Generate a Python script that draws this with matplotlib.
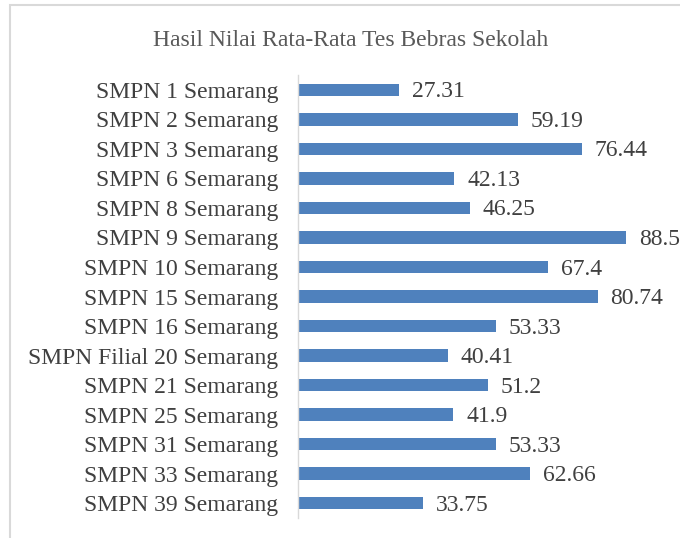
import matplotlib
matplotlib.use('Agg')
import matplotlib.pyplot as plt
import matplotlib.patches as patches

# ── Data ───────────────────────────────────────────────────────────────────────
schools = [
    'SMPN 1 Semarang', 'SMPN 2 Semarang', 'SMPN 3 Semarang', 'SMPN 6 Semarang',
    'SMPN 8 Semarang', 'SMPN 9 Semarang', 'SMPN 10 Semarang', 'SMPN 15 Semarang',
    'SMPN 16 Semarang', 'SMPN Filial 20 Semarang', 'SMPN 21 Semarang',
    'SMPN 25 Semarang', 'SMPN 31 Semarang', 'SMPN 33 Semarang', 'SMPN 39 Semarang',
]
scores = [27.31, 59.19, 76.44, 42.13, 46.25, 88.5, 67.4, 80.74,
          53.33, 40.41, 51.2, 41.9, 53.33, 62.66, 33.75]
score_labels = ['27.31', '59.19', '76.44', '42.13', '46.25', '88.5', '67.4', '80.74',
                '53.33', '40.41', '51.2', '41.9', '53.33', '62.66', '33.75']

BAR_COLOR = '#4F81BD'
TEXT_COLOR = '#404040'
FS = 17

plt.rcParams['font.family'] = ['Liberation Serif', 'DejaVu Serif']

W, H = 680, 538
fig = plt.figure(figsize=(W / 100, H / 100), dpi=100)

# outer chart frame (light gray border)
fig.patches.append(patches.Rectangle(
    (10 / W, -0.05), 1.0, 1 - 5 / H + 0.05, transform=fig.transFigure,
    fill=False, edgecolor='#D9D9D9', linewidth=1.5))

ax = fig.add_axes([298 / W, 20 / H, 371 / W, 443 / H])

ypos = list(range(len(schools)))
ax.barh(ypos, scores, height=0.42, color=BAR_COLOR)
for y, v, lbl in zip(ypos, scores, score_labels):
    ax.text(v + 3.5, y + 0.07, lbl, va='center', ha='left', fontsize=FS, color=TEXT_COLOR)

ax.set_xlim(0, 100)
ax.set_ylim(len(schools) - 0.5, -0.5)
ax.set_yticks(ypos)
ax.set_yticklabels(schools, fontsize=FS, color=TEXT_COLOR, va='center_baseline')
ax.tick_params(axis='y', length=0, pad=14)
ax.set_xticks([])

for side in ['top', 'right', 'bottom']:
    ax.spines[side].set_visible(False)
ax.spines['left'].set_color('#D9D9D9')
ax.spines['left'].set_linewidth(1.0)

fig.text(351 / W, 1 - 41 / H, 'Hasil Nilai Rata-Rata Tes Bebras Sekolah',
         ha='center', va='center', fontsize=FS, color='#595959')

fig.savefig('out.png', dpi=100)
